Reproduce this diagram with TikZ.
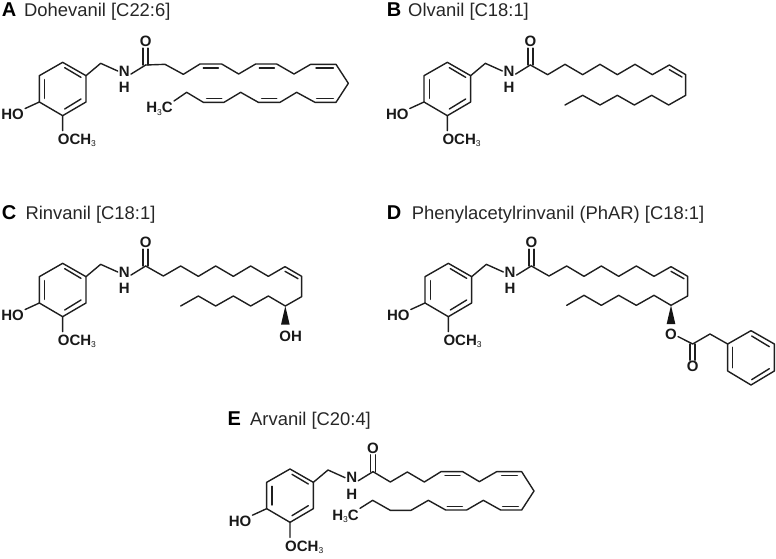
\documentclass[tikz,border=0pt]{standalone}
\usepackage{fontspec}
\setmainfont{Liberation Sans}
\newcommand{\atomfont}{\fontsize{15}{16}\selectfont\bfseries}
\newcommand{\subthree}{\raisebox{-2.6pt}{\fontsize{8.5}{9}\selectfont\mdseries 3}}
\tikzset{
  every picture/.append style={x=0.33333pt,y=-0.33333pt},
  bond/.style={line width=1.4pt,draw=black!88,line join=round,line cap=round},
  wedgebond/.style={fill=black!92,draw=none},
  atom/.style={inner sep=1pt,font=\atomfont,text=black!90},
  atomtext/.style={inner sep=1pt,font=\atomfont,text=black!90,anchor=base west},
  panelletter/.style={inner sep=0pt,anchor=base west,font=\fontsize{20}{21}\selectfont\bfseries,text=black},
  paneltitle/.style={inner sep=0pt,anchor=base west,font=\fontsize{18.4}{20}\selectfont,text=black!85},
  vanillyl/.pic={
    \coordinate (-a) at (0,0);
    \coordinate (-b) at (70,40);
    \coordinate (-c) at (70,119);
    \coordinate (-d) at (0,160);
    \coordinate (-e) at (-70,119);
    \coordinate (-f) at (-70,40);
    \coordinate (-g) at (114,3);
    \coordinate (-C) at (249,8);
    \node[atom] (-N) at (185,26) {N};
    \node[atom] (-H) at (185,75) {H};
    \node[atom] (-O) at (249,-62) {O};
    \node[atom] (-HO) at (-150,156) {HO};
    \node[atomtext] (-OM) at (-18,246) {OCH\subthree};
    \draw[bond] (-a) -- (-b) -- (-c) -- (-d) -- (-e) -- (-f) -- cycle;
    \draw[bond] (6,16) -- (55,45);
    \draw[bond] (55,110) -- (6,140);
    \draw[bond] (-54,108) -- (-54,52);
    \draw[bond] (-b) -- (-g) -- (-N.west);
    \draw[bond] (-N.-25) -- (-C);
    \draw[bond] ([xshift=-2.5pt]-C) -- ([xshift=-2.5pt]-O.south);
    \draw[bond] ([xshift=2.5pt]-C) -- ([xshift=2.5pt]-O.south);
    \draw[bond] (-e) -- (-HO.25);
    \draw[bond] (-d) -- ([xshift=6pt,yshift=2pt]-OM.north west);
  }
}
\begin{document}
\begin{tikzpicture}
\useasboundingbox (0,0) rectangle (2328,1677);
% Panel A
\node[panelletter] (la) at (5,50) {A};
\node[paneltitle] (ta) at (72,50) {Dohevanil [C22:6]};
\pic (a) at (188,187) {vanillyl};
\node[atomtext,anchor=base east] (a3) at (522,338) {H\subthree C};
\draw[bond] (a-C) -- (495,193) -- (550,223) -- (600,192) -- (665,192) -- (716,222) -- (767,192) -- (830,192) -- (882,222) -- (932,193) -- (1008,193) -- (1045,250) -- (1008,307) -- (945,307) -- (890,277) -- (840,307) -- (775,307) -- (722,277) -- (672,307) -- (610,307) -- (560,277) -- (a3.north east);
\draw[bond] (610,204) -- (655,204);
\draw[bond] (778,204) -- (823,204);
\draw[bond] (948,204) -- (1000,204);
\draw[bond] (620,296) -- (665,296);
\draw[bond] (785,296) -- (830,296);
\draw[bond] (950,296) -- (1000,296);
% Panel B
\begin{scope}[shift={(1140,0)}]
\node[panelletter] (lb) at (20,50) {B};
\node[paneltitle] (tb) at (84,50) {Olvanil [C18:1]};
\pic (b) at (202,187) {vanillyl};
\coordinate (bend) at (555,315);
\draw[bond] (b-C) -- (503,224) -- (555,193) -- (608,224) -- (660,193) -- (712,224) -- (765,193) -- (817,224) -- (868,195) -- (917,224) -- (917,286) -- (866,315) -- (815,286) -- (763,315) -- (712,286) -- (660,315) -- (608,286) -- (bend);
\draw[bond] (868,209) -- (906,231);
\end{scope}
% Panel C
\begin{scope}[shift={(0,510)}]
\node[panelletter] (lc) at (5,150) {C};
\node[paneltitle] (tc) at (76,150) {Rinvanil [C18:1]};
\pic (c) at (188,280) {vanillyl};
\coordinate (cstar) at (856,408);
\coordinate (cend) at (542,408);
\draw[bond] (c-C) -- (490,318) -- (542,288) -- (595,319) -- (647,288) -- (700,319) -- (752,288) -- (805,319) -- (855,290) -- (905,319) -- (905,380) -- (cstar) -- (805,378) -- (752,408) -- (700,378) -- (647,408) -- (595,378) -- (cend);
\draw[bond] (855,304) -- (894,326);
\node[atom] (coh) at (872,500) {OH};
\fill[wedgebond] (cstar) -- (843,464) -- (869,464) -- cycle;
\end{scope}
% Panel D
\begin{scope}[shift={(1140,510)}]
\node[panelletter] (ld) at (20,150) {D};
\node[paneltitle] (td) at (95,150) {Phenylacetylrinvanil (PhAR) [C18:1]};
\pic (d) at (205,280) {vanillyl};
\coordinate (dstar) at (873,406);
\coordinate (dend) at (560,406);
\draw[bond] (d-C) -- (507,318) -- (560,288) -- (612,319) -- (664,288) -- (716,319) -- (769,288) -- (822,319) -- (873,290) -- (923,319) -- (923,378) -- (dstar) -- (822,376) -- (769,406) -- (716,376) -- (664,406) -- (612,376) -- (dend);
\draw[bond] (873,304) -- (912,326);
\fill[wedgebond] (dstar) -- (860,462) -- (886,462) -- cycle;
\node[atom] (do1) at (873,492) {O};
\node[atom] (do2) at (938,590) {O};
\coordinate (dc) at (938,522);
\coordinate (dp) at (1043,522);
\draw[bond] (do1.-20) -- (dc) -- (990,492) -- (dp);
\draw[bond] (dp) -- (1113,482) -- (1183,522) -- (1183,603) -- (1113,645) -- (1043,603) -- cycle;
\draw[bond] ([xshift=-2.5pt]dc) -- ([xshift=-2.5pt]do2.north);
\draw[bond] ([xshift=2.5pt]dc) -- ([xshift=2.5pt]do2.north);
\draw[bond] (1058,532) -- (1058,593);
\draw[bond] (1115,498) -- (1168,530);
\draw[bond] (1115,629) -- (1168,596);
\end{scope}
% Panel E
\begin{scope}[shift={(630,1200)}]
\node[panelletter] (le) at (52,75) {E};
\node[paneltitle] (te) at (120,75) {Arvanil [C20:4]};
\pic (e) at (240,207) {vanillyl};
\node[atomtext,anchor=base east] (e3) at (450,360) {H\subthree C};
\draw[bond] (e-C) -- (541,246) -- (592,216) -- (643,246) -- (693,215) -- (758,215) -- (808,245) -- (860,215) -- (935,215) -- (972,273) -- (935,330) -- (872,330) -- (820,301) -- (770,330) -- (707,330) -- (655,301) -- (603,331) -- (541,331) -- (488,301) -- (e3.north east);
\draw[bond] (705,227) -- (750,227);
\draw[bond] (875,227) -- (922,227);
\draw[bond] (878,319) -- (925,319);
\draw[bond] (712,319) -- (757,319);
\end{scope}
\end{tikzpicture}
\end{document}
